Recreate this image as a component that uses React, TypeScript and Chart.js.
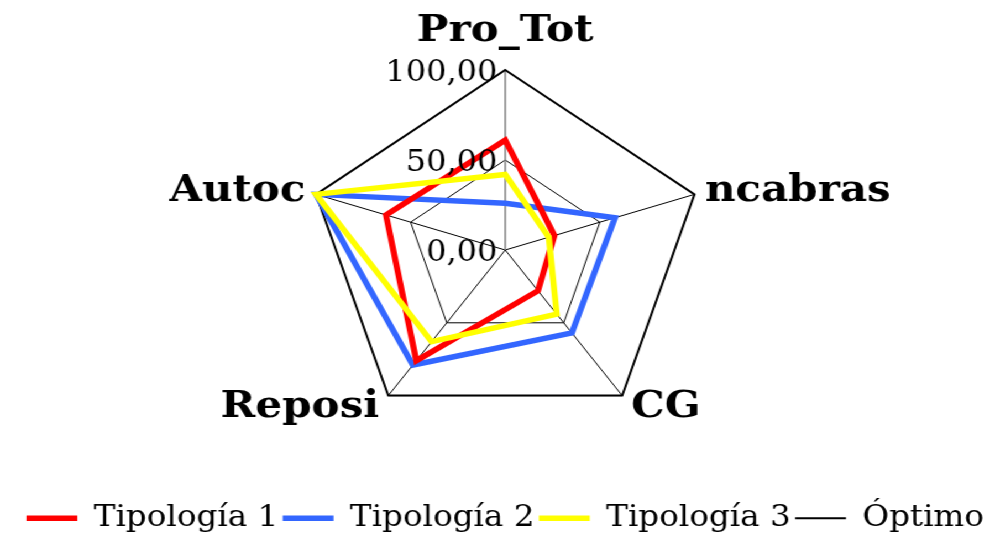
import React, { useEffect, useRef } from "react";
import { Chart, registerables } from "chart.js";

Chart.register(...registerables);

const CATEGORIES = ["Pro_Tot", "ncabras", "CG", "Reposi", "Autoc"];
const TIPOLOGIA_1 = [61, 26, 28, 76, 63];
const TIPOLOGIA_2 = [26, 58, 57, 79, 100];
const TIPOLOGIA_3 = [42, 23, 44, 63, 100];
const OPTIMO = [100, 100, 100, 100, 100];
const TICK_VALUES = [0, 50, 100];
const TICK_LABELS = ["0,00", "50,00", "100,00"];

const LOGICAL_W = 900;
const PAGE_W = 995;
const PAGE_H = 535;
const SERIF = '"DejaVu Serif", "Liberation Serif", serif';

const tickLabelPlugin = {
  id: "tickLabelsLeft",
  afterDatasetsDraw(chart: any) {
    const s = chart.scales.r;
    const ctx = chart.ctx;
    ctx.save();
    ctx.font = `29px ${SERIF}`;
    ctx.fillStyle = "#000";
    ctx.textAlign = "right";
    ctx.textBaseline = "middle";
    TICK_VALUES.forEach((v, i) => {
      const y = s.yCenter - s.getDistanceFromCenterForValue(v);
      ctx.fillText(TICK_LABELS[i], s.xCenter - 7, y + 3);
    });
    ctx.restore();
  },
};

export default function App() {
  const ref = useRef<HTMLCanvasElement | null>(null);
  useEffect(() => {
    document.body.style.margin = "0";
    if (!ref.current) return;
    const chart = new Chart(ref.current, {
      type: "radar",
      data: {
        labels: CATEGORIES,
        datasets: [
          {
            label: "Tipología 1",
            data: TIPOLOGIA_1,
            borderColor: "#FF0000",
            backgroundColor: "#FF0000",
            borderWidth: 5.5,
            fill: false,
            pointRadius: 0,
            borderJoinStyle: "miter",
            borderCapStyle: "round",
            order: 1,
          },
          {
            label: "Tipología 2",
            data: TIPOLOGIA_2,
            borderColor: "#3366FF",
            backgroundColor: "#3366FF",
            borderWidth: 5.5,
            fill: false,
            pointRadius: 0,
            borderJoinStyle: "miter",
            borderCapStyle: "round",
            order: 2,
          },
          {
            label: "Tipología 3",
            data: TIPOLOGIA_3,
            borderColor: "#FFFF00",
            backgroundColor: "#FFFF00",
            borderWidth: 5.5,
            fill: false,
            pointRadius: 0,
            borderJoinStyle: "miter",
            borderCapStyle: "round",
            order: 0,
          },
          {
            label: "Óptimo",
            data: OPTIMO,
            borderColor: "#000000",
            backgroundColor: "#000000",
            borderWidth: 2,
            fill: false,
            pointRadius: 0,
            borderJoinStyle: "miter",
            order: 3,
          },
        ],
      },
      options: {
        animation: false,
        responsive: true,
        maintainAspectRatio: false,
        layout: { padding: { top: 12, left: 14, right: 0, bottom: -8 } },
        plugins: {
          tooltip: { enabled: false },
          legend: {
            position: "bottom",
            title: {
              display: true,
              text: " ",
              font: { size: 2, lineHeight: 1 },
              padding: { top: 46, bottom: 0 },
            },
            labels: {
              usePointStyle: true,
              pointStyle: "line",
              pointStyleWidth: 46,
              padding: 4,
              color: "#000",
              font: { family: SERIF, size: 29.5 },
              sort: (a: any, b: any) => a.datasetIndex - b.datasetIndex,
            },
          },
        },
        scales: {
          r: {
            min: 0,
            max: 100,
            ticks: { stepSize: 50, display: false },
            grid: { color: "#000", lineWidth: 1 },
            angleLines: {
              color: (c: any) => (c.index === 0 ? "#808080" : "#000"),
              lineWidth: (c: any) => (c.index === 0 ? 1.5 : 1),
            },
            pointLabels: {
              color: "#000",
              font: { family: SERIF, size: 38, weight: "bold", lineHeight: 0 },
              padding: (c: any) => (c.index === 0 ? 39 : c.index === 1 || c.index === 4 ? 10 : 14),
            },
          },
        },
      },
      plugins: [tickLabelPlugin],
    } as any);
    return () => chart.destroy();
  }, []);

  return (
    <div
      style={{
        position: "fixed",
        left: 0,
        top: 0,
        width: LOGICAL_W,
        height: PAGE_H,
        transform: `scaleX(${PAGE_W / LOGICAL_W})`,
        transformOrigin: "0 0",
        background: "#fff",
      }}
    >
      <canvas ref={ref} />
    </div>
  );
}
